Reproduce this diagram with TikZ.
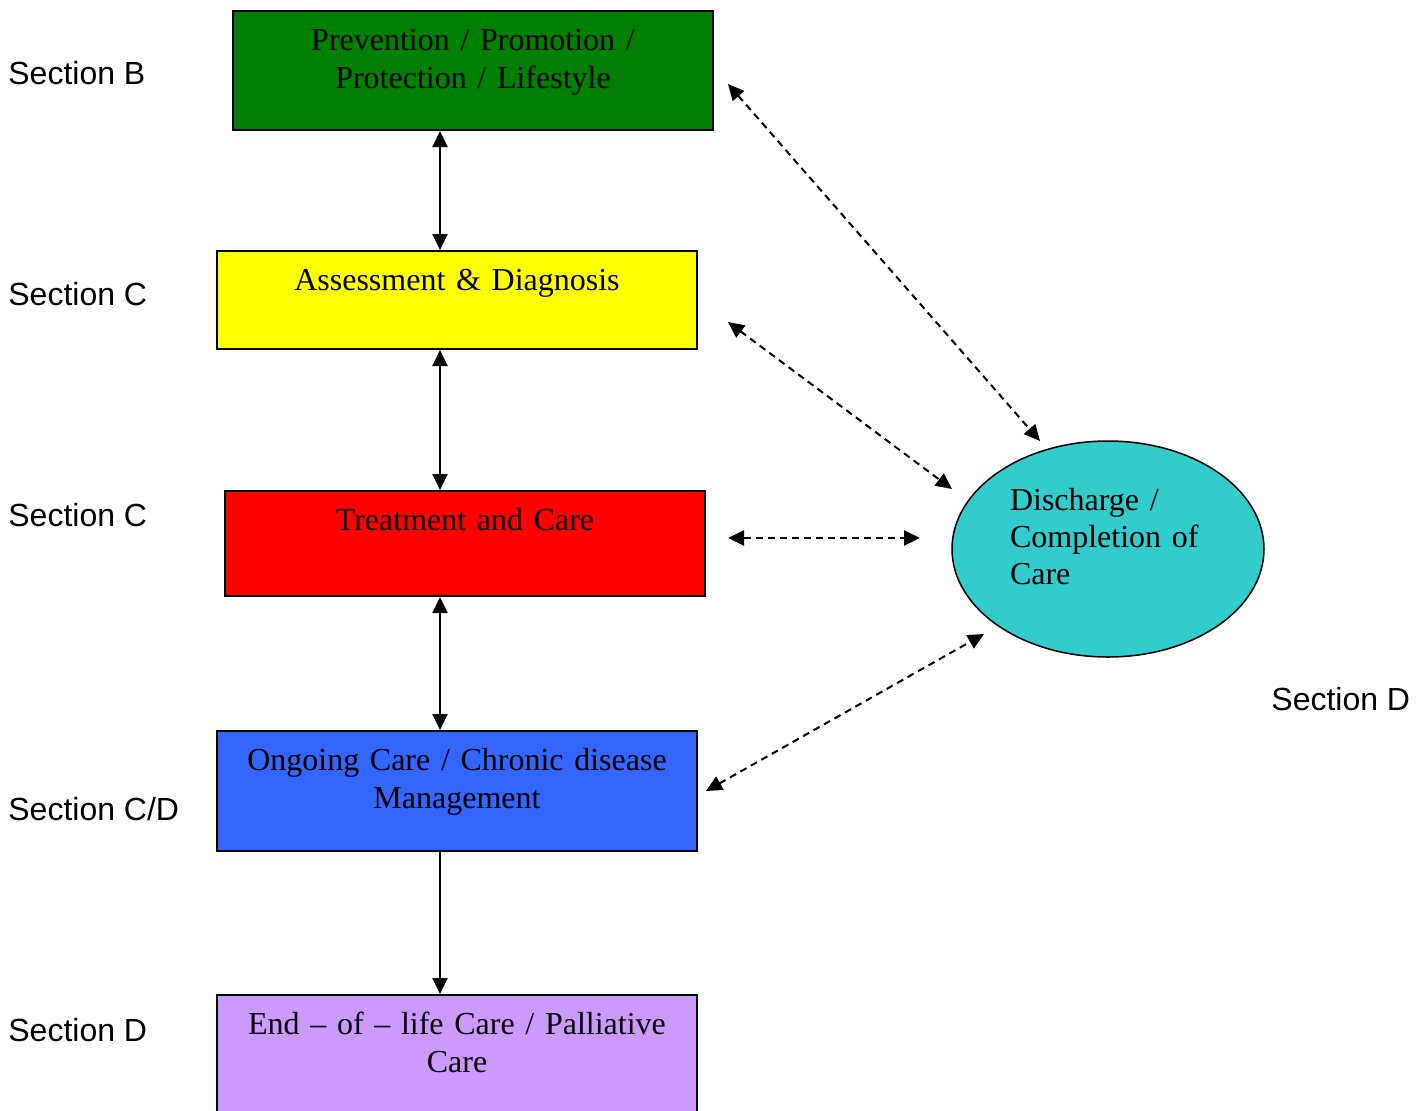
\documentclass[tikz,border=0pt]{standalone}
\usepackage{fontspec}
\setmainfont{Liberation Serif}
\setsansfont{Liberation Sans}
\usetikzlibrary{arrows.meta,shapes.geometric}

\definecolor{prevgreen}{RGB}{0,128,0}
\definecolor{assessyellow}{RGB}{255,255,0}
\definecolor{treatred}{RGB}{255,0,0}
\definecolor{ongoingblue}{RGB}{51,102,255}
\definecolor{eolpurple}{RGB}{204,153,255}
\definecolor{dischteal}{RGB}{51,204,204}

\tikzset{
  stage/.style={draw, line width=1pt, fill=#1, anchor=north west, inner sep=0pt,
    minimum width=240pt, text width=236pt, align=center, text height=19.5pt,
    font=\fontsize{16}{19}\selectfont},
  sect/.style={anchor=base west, inner sep=0pt, font=\sffamily\fontsize{16}{19}\selectfont},
  link/.style={line width=1pt},
  returnline/.style={line width=1pt, dash pattern=on 3.5pt off 2.5pt},
  >={Triangle[length=8pt,width=7.5pt]}
}

\begin{document}
\begin{tikzpicture}[x=0.5pt,y=-0.5pt]
  \useasboundingbox (0,0) rectangle (1424,1110);

  % stages
  \node[stage=prevgreen, text depth=40pt] (prev) at (232,10) {Prevention / Promotion /\\ Protection / Lifestyle};
  \node[stage=assessyellow, text depth=29.5pt] (assess) at (216,250) {Assessment \& Diagnosis};
  \node[stage=treatred, text depth=33pt] (treat) at (224,490) {Treatment and Care};
  \node[stage=ongoingblue, text depth=40.5pt] (ongoing) at (216,730) {Ongoing Care / Chronic disease\\ Management};
  \node[stage=eolpurple, text depth=48.5pt] (eol) at (216,994) {End -- of -- life Care / Palliative\\ Care};

  \node[ellipse, draw, line width=0.75pt, fill=dischteal, minimum width=156pt, minimum height=108pt,
    inner sep=0pt, text width=98pt, align=left, text height=12pt, text depth=51pt,
    font=\fontsize{16}{18.5}\selectfont] (disch) at (1108,549) {Discharge /\\ Completion of\\ Care};

  % section labels
  \node[sect] (secB) at (8,84.5) {Section B};
  \node[sect] (secC1) at (8,305.5) {Section C};
  \node[sect] (secC2) at (8,526.5) {Section C};
  \node[sect] (secCD) at (8,820.5) {Section C/D};
  \node[sect] (secD1) at (8,1041.5) {Section D};
  \node[sect] (secD2) at (1271,710.5) {Section D};

  % main path
  \coordinate (spine) at (440,0);
  \draw[link,<->] (spine |- prev.south) -- (spine |- assess.north);
  \draw[link,<->] (spine |- assess.south) -- (spine |- treat.north);
  \draw[link,<->] (spine |- treat.south) -- (spine |- ongoing.north);
  \draw[link,->] (spine |- ongoing.south) -- (spine |- eol.north);

  % links to discharge
  \coordinate (r1) at (728,84);  \coordinate (d1) at (1040,441);
  \coordinate (r2) at (728,322); \coordinate (d2) at (952,489);
  \coordinate (r3) at (728,538); \coordinate (d3) at (920,538);
  \coordinate (r4) at (706,791); \coordinate (d4) at (984,634);
  \draw[returnline,<->] (r1) -- (d1);
  \draw[returnline,<->] (r2) -- (d2);
  \draw[returnline,<->] (r3) -- (d3);
  \draw[returnline,<->] (r4) -- (d4);
\end{tikzpicture}
\end{document}
